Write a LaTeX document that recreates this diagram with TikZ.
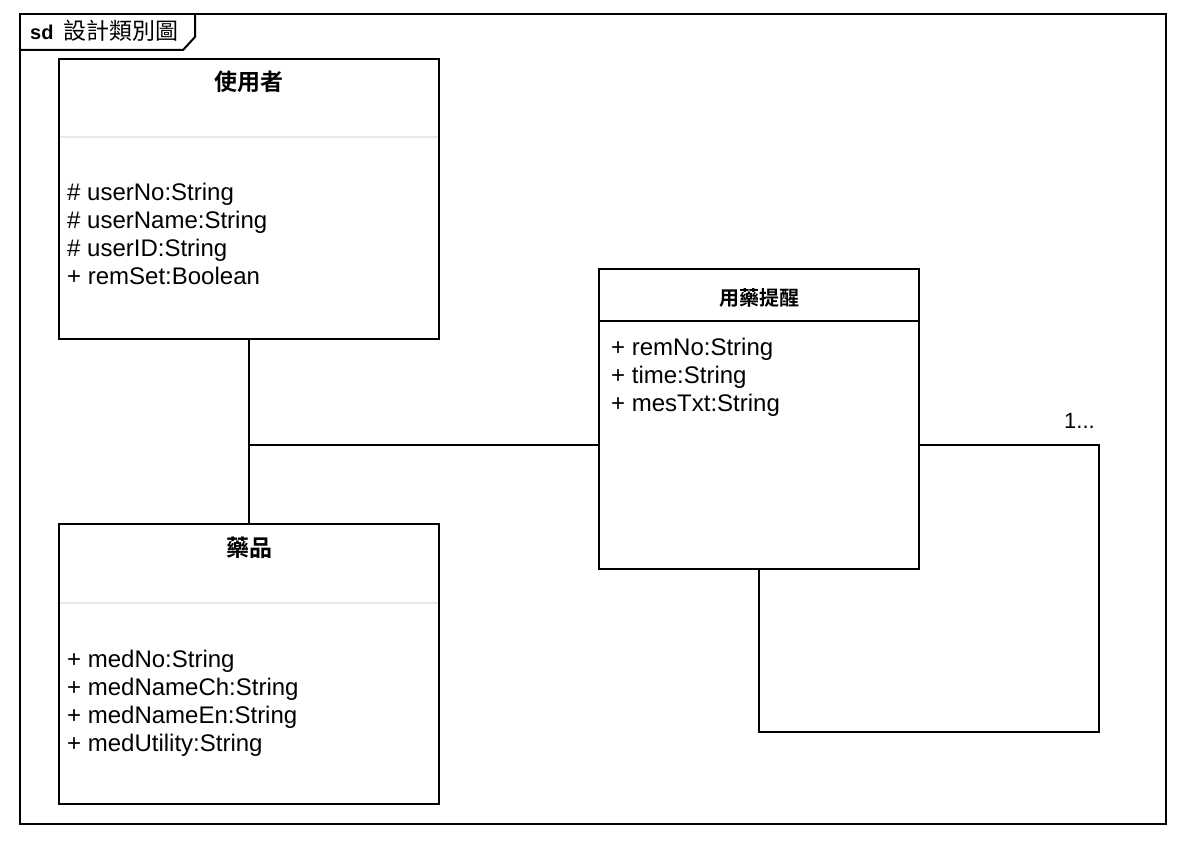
\documentclass[tikz,border=0pt]{standalone}
\usepackage{fontspec}
\setmainfont{Liberation Sans}
\newfontfamily\cjk{Noto Sans CJK TC}[BoldFont={Noto Sans CJK TC Bold}]
\begin{document}
\begin{tikzpicture}[x=1pt,y=-1pt,
  line/.style={draw=black,line width=2pt},
  classbox/.style={line,rectangle,inner sep=0pt,fill=white},
  attr/.style={anchor=base west,inner sep=0pt,font=\fontsize{24}{28}\selectfont},
  hdr/.style={inner sep=0pt,font=\fontsize{23}{27}\selectfont\cjk\bfseries},
  sep/.style={draw=black!9,line width=2pt}]
\useasboundingbox[fill=white] (0,0) rectangle (1182,840);
% frame
\node[line,rectangle,inner sep=0pt,minimum width=1146pt,minimum height=810pt] (frame) at (593,419) {};
\coordinate (t1) at (195,14);
\coordinate (t2) at (195,37);
\coordinate (t3) at (183,50);
\coordinate (t4) at (20,50);
\draw[line,line join=miter] (t1) -- (t2) -- (t3) -- (t4);
\node[anchor=base west,inner sep=0pt,font=\fontsize{20}{24}\selectfont\bfseries] (title) at (30,40) {sd};
\node[anchor=base west,inner sep=0pt,font=\fontsize{23}{27}\selectfont\cjk] (titlecjk) at (63,40) {設計類別圖};
% classes
\node[classbox,minimum width=380pt,minimum height=280pt] (user) at (249,199) {};
\node[classbox,minimum width=380pt,minimum height=280pt] (med) at (249,664) {};
\node[classbox,minimum width=320pt,minimum height=300pt] (rem) at (759,419) {};
% user
\node[hdr] (userh) at (249,82) {使用者};
\draw[sep] (60,137) -- (438,137);
\node[attr] (u1) at (67,200) {\# userNo:String};
\node[attr] (u2) at (67,228) {\# userName:String};
\node[attr] (u3) at (67,256) {\# userID:String};
\node[attr] (u4) at (67,284) {+ remSet:Boolean};
% med
\node[hdr] (medh) at (249,548) {藥品};
\draw[sep] (60,603) -- (438,603);
\node[attr] (m1) at (67,667) {+ medNo:String};
\node[attr] (m2) at (67,695) {+ medNameCh:String};
\node[attr] (m3) at (67,723) {+ medNameEn:String};
\node[attr] (m4) at (67,751) {+ medUtility:String};
% rem
\node[inner sep=0pt,font=\fontsize{20}{24}\selectfont\cjk\bfseries] (remh) at (759,298) {用藥提醒};
\draw[line] (599,321) -- (919,321);
\node[attr] (r1) at (611,355) {+ remNo:String};
\node[attr] (r2) at (611,383) {+ time:String};
\node[attr] (r3) at (611,411) {+ mesTxt:String};
% connectors
\coordinate (j) at (249,445);
\draw[line] (user.south) -- (med.north);
\draw[line] (j) -- (rem.west |- j);
\coordinate (l1) at (1099,445);
\coordinate (l2) at (1099,732);
\draw[line,line join=miter] (rem.east |- j) -- (l1) -- (l2) -| (rem.south);
\node[anchor=base east,inner sep=0pt,font=\fontsize{22}{26}\selectfont] (mult) at (1095,428) {1...};
\end{tikzpicture}
\end{document}
